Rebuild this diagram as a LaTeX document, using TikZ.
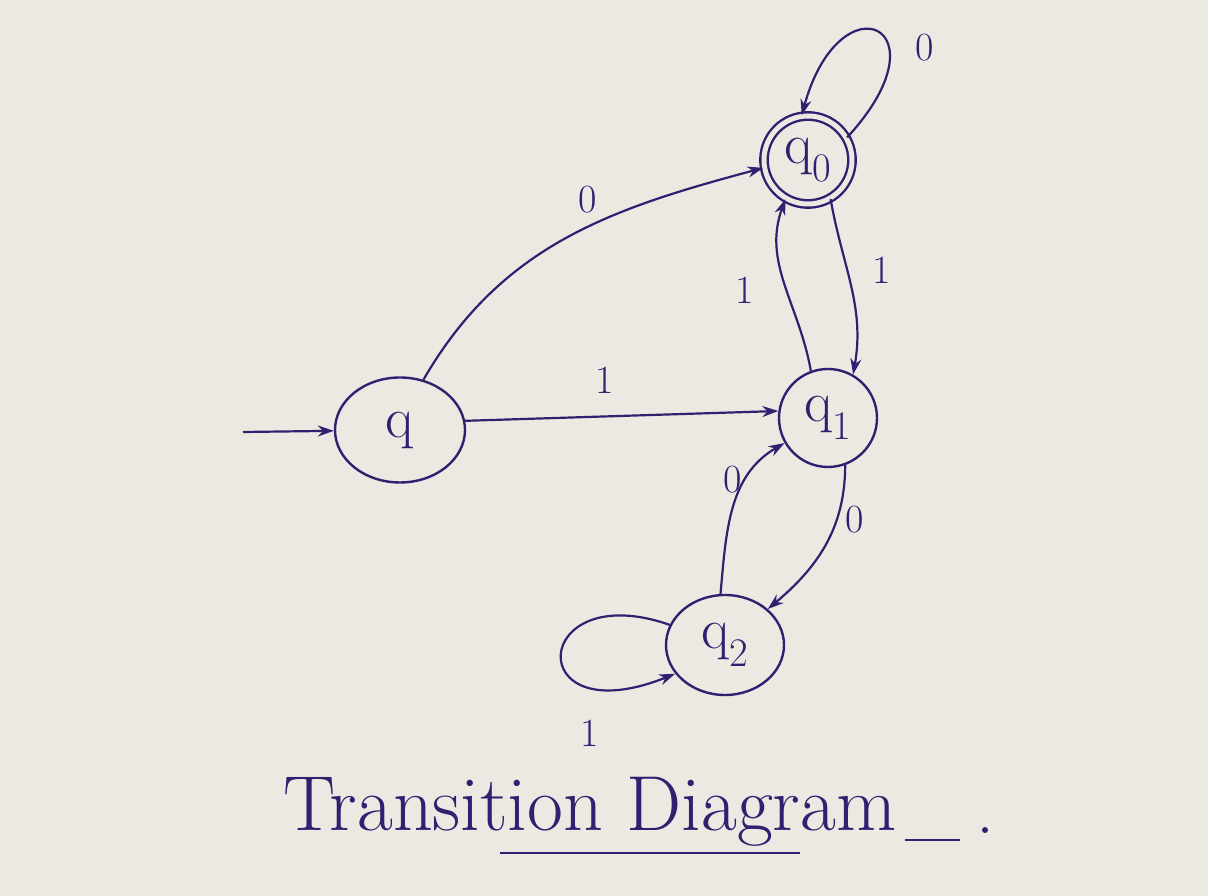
\documentclass[tikz,border=0pt]{standalone}
\usetikzlibrary{arrows.meta,shapes.geometric}
\definecolor{paper}{RGB}{236,233,226}
\definecolor{ink}{RGB}{48,32,112}
\begin{document}
\begin{tikzpicture}[x=1pt,y=1pt,
  every node/.style={text=ink},
  state/.style={draw=ink, line width=2.4pt, circle, inner sep=0pt, minimum size=100pt, font=\fontsize{58}{62}\selectfont},
  acc/.style={state, double=paper, double distance=5pt},
  edge/.style={draw=ink, line width=2.2pt, -{Stealth[length=16pt,width=11pt]}},
  lab/.style={font=\fontsize{40}{44}\selectfont}]
\fill[paper] (0,0) rectangle (1208,896);
\useasboundingbox (0,0) rectangle (1208,896);
\node[state, ellipse, minimum width=130pt, minimum height=105pt] (q) at (400,466) {q};
\node[acc, minimum size=88pt] (q0) at (808,736) {q\textsubscript{0}};
\node[state, minimum size=98pt] (q1) at (828,478) {q\textsubscript{1}};
\node[state, ellipse, minimum width=118pt, minimum height=100pt] (q2) at (725,251) {q\textsubscript{2}};
\coordinate (s) at (243,464);
\draw[edge] (s) -- (q);
\draw[edge] (q.65) to[out=60,in=195] (q0.190);
\node[lab] (l1) at (588,696) {0};
\draw[edge] (q.8) -- (q1.172);
\node[lab] (l2) at (605,516) {1};
\draw[edge] (q0.-60) to[out=-80,in=80] (q1.60);
\node[lab] (l3) at (882,626) {1};
\draw[edge] (q1.110) to[out=100,in=-110] (q0.-120);
\node[lab] (l4) at (745,606) {1};
\draw[edge] (q1.-70) to[out=-90,in=40] (q2.40);
\node[lab] (l5) at (855,376) {0};
\draw[edge] (q2.95) to[out=85,in=-150] (q1.-150);
\node[lab] (l6) at (733,416) {0};
\draw[edge] (q0.30) .. controls (950,870) and (840,920) .. (q0.98);
\node[lab] (l7) at (925,848) {0};
\draw[edge] (q2.160) .. controls (530,320) and (520,160) .. (q2.210);
\node[lab] (l8) at (590,163) {1};
\node[font=\fontsize{78}{84}\selectfont] (t) at (590,84) {Transition Diagram};
\coordinate (u1) at (500,43);
\coordinate (u2) at (800,43);
\draw[ink, line width=2.2pt] (u1) -- (u2);
\coordinate (v1) at (905,56);
\coordinate (v2) at (960,56);
\draw[ink, line width=2.2pt] (v1) -- (v2);
\fill[ink] (985,66) circle (3pt);
\end{tikzpicture}
\end{document}
